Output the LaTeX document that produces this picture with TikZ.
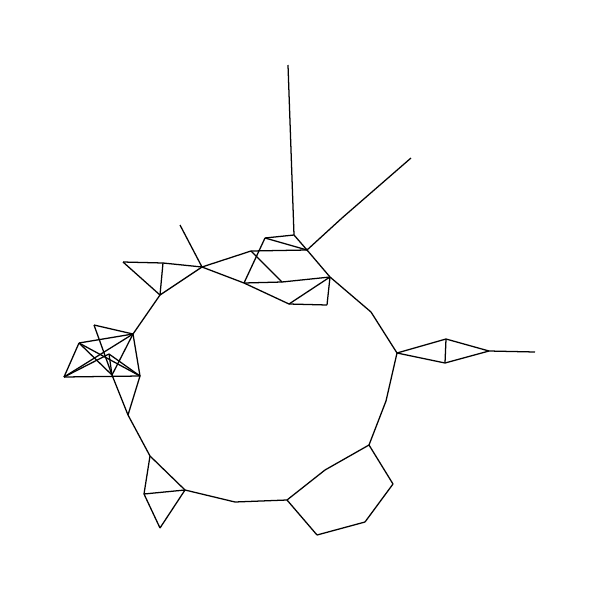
\documentclass[tikz,border=0pt]{standalone}
\usepackage{tikz}

\begin{document}
\begin{tikzpicture}[
    x=0.025cm, y=-0.025cm,
    edge/.style={draw=black, line width=0.9pt, line join=round}
]
\useasboundingbox (0,0) rectangle (600,600);

% Ring
\coordinate (hub) at (202,267);
\coordinate (b) at (160,295);
\coordinate (c) at (133,334);
\coordinate (e) at (128,415);
\coordinate (f) at (150,456);
\coordinate (g) at (185,490);
\coordinate (h) at (235,502);
\coordinate (i) at (287,500);
\coordinate (j) at (369,445);
\coordinate (k) at (386,401);
\coordinate (l) at (397,353);
\coordinate (m) at (371,312);
\coordinate (n) at (330,277);

% Left triangle and spike
\coordinate (q1) at (123,262);
\coordinate (q2) at (163,263);
\coordinate (s1) at (180,225);

% Left cluster
\coordinate (p1) at (94,325);
\coordinate (p2) at (79,343);
\coordinate (p3) at (64,377);
\coordinate (p4) at (140,376);
\coordinate (p5) at (112,375);
\coordinate (p6) at (109,354);

% Top cluster and spikes
\coordinate (t1) at (294,235);
\coordinate (t2) at (265,238);
\coordinate (t3) at (251,251);
\coordinate (t4) at (307,250);
\coordinate (t5) at (244,283);
\coordinate (t6) at (282,282);
\coordinate (t8) at (289,304);
\coordinate (t9) at (327,305);
\coordinate (x1) at (288,65);
\coordinate (xm) at (342,218);
\coordinate (x2) at (411,158);

% Right diamond
\coordinate (r1) at (446,339);
\coordinate (r2) at (445,363);
\coordinate (r3) at (489,351);
\coordinate (r4) at (535,352);

% Bottom-left triangles
\coordinate (u1) at (144,494);
\coordinate (u2) at (160,528);

% Bottom-right pentagon
\coordinate (v1) at (325,470);
\coordinate (v2) at (393,484);
\coordinate (v3) at (365,522);
\coordinate (v4) at (317,535);

\foreach \src/\dst in {hub/b, b/c, e/f, f/g, g/h, h/i, j/k, k/l, l/m, m/n,
    q1/q2, q2/hub, q1/b, q2/b, hub/s1,
    c/p1, c/p2, c/p3, c/p4, c/p5, p2/p3, p3/p4, p2/p4, p2/p5,
    p3/p6, p6/p4, p6/p5, p1/p5, p5/e, p4/e,
    t1/t2, t1/t4, t1/x1, t2/t4, t2/t5, t3/t4, t3/t6, hub/t3, hub/t5,
    t4/n, t4/xm, xm/x2, t5/t6, t6/n, t5/t8, t8/t9, t8/n, t9/n,
    l/r1, l/r2, r1/r2, r1/r3, r2/r3, r3/r4,
    f/u1, u1/g, u1/u2, g/u2,
    i/v1, v1/j, j/v2, v2/v3, v3/v4, v4/i}
    \draw[edge] (\src) -- (\dst);

\end{tikzpicture}
\end{document}
